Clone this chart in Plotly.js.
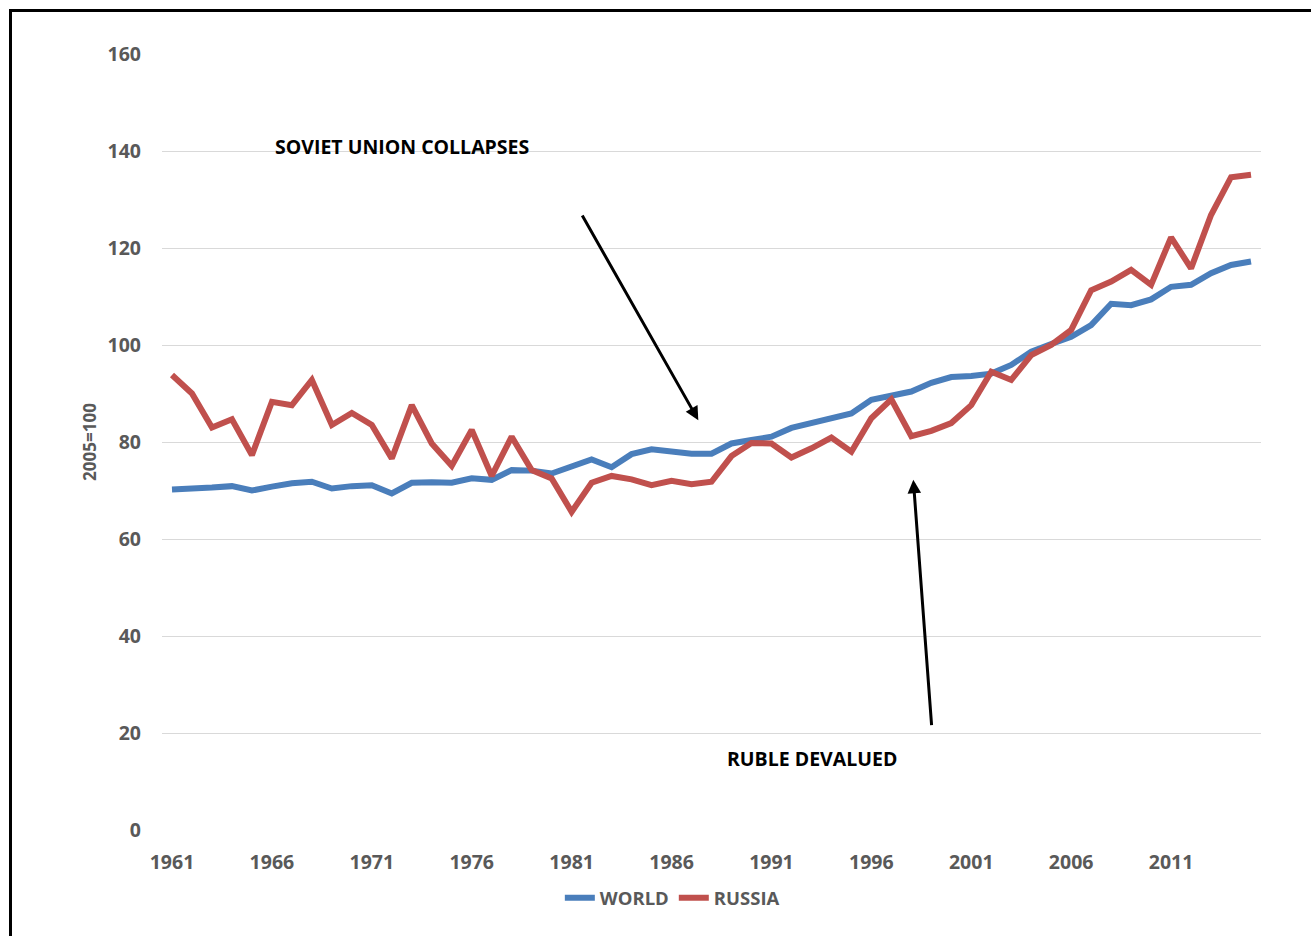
<!DOCTYPE html>
<html>
<head>
<meta charset="utf-8">
<script src="https://cdn.plot.ly/plotly-3.0.1.min.js"></script>
<style>
  html, body { margin: 0; padding: 0; background: #ffffff; }
  #wrap { position: relative; width: 1311px; height: 936px; overflow: hidden; }
  #chart { width: 1311px; height: 936px; }
  #frame { position: absolute; left: 9px; top: 9px; width: 1400px; height: 1000px;
           border-left: 3px solid #000; border-top: 3px solid #000; pointer-events: none; }
</style>
</head>
<body>
<div id="wrap">
  <div id="chart"></div>
  <div id="frame"></div>
</div>
<script>
const years = [];
for (let y = 1961; y <= 2015; y++) years.push(y);

const worldValues = [
  70.2, 70.3, 70.6, 70.9, 70.0, 70.8, 71.5, 71.8, 70.4, 70.9,
  71.1, 69.4, 71.6, 71.7, 71.6, 72.5, 72.2, 74.2, 74.1, 73.5,
  75.1, 76.4, 74.8, 77.5, 78.5, 78.1, 77.6, 77.6, 79.7, 80.4,
  81.1, 82.9, 83.9, 85.2, 85.9, 88.7, 89.5, 90.4, 92.2, 93.4,
  93.6, 94.1, 95.9, 98.6, 100.2, 101.7, 104.1, 108.5, 108.2, 109.4,
  112.0, 112.4, 114.8, 116.5, 117.2
];

const russiaValues = [
  93.8, 90.0, 83.0, 84.7, 77.3, 88.3, 87.6, 92.8, 83.5, 86.0,
  83.5, 76.6, 87.6, 79.7, 75.1, 82.5, 73.0, 81.1, 74.2, 72.5,
  65.6, 71.6, 73.0, 72.3, 71.1, 72.0, 71.3, 71.8, 77.1, 79.8,
  79.7, 76.8, 78.7, 80.9, 78.0, 84.9, 88.8, 81.2, 82.3, 83.9,
  87.6, 94.5, 92.8, 97.9, 100.0, 103.1, 111.3, 113.1, 115.5, 112.4,
  122.2, 115.8, 126.8, 134.6, 135.1
];

const seriesNames = ['WORLD', 'RUSSIA'];
const seriesColors = ['#4A7EBB', '#C0504D'];
const xTickYears = [1961, 1966, 1971, 1976, 1981, 1986, 1991, 1996, 2001, 2006, 2011];
const yTicks = [0, 20, 40, 60, 80, 100, 120, 140, 160];
const yAxisTitle = '2005=100';
const noteCollapse = 'SOVIET UNION COLLAPSES';
const noteRuble = 'RUBLE DEVALUED';

const FONT = '"Open Sans", "Liberation Sans", sans-serif';
const GRAY = '#595959';

const traces = [worldValues, russiaValues].map((vals, i) => ({
  type: 'scatter',
  mode: 'lines',
  x: years,
  y: vals,
  name: seriesNames[i],
  line: { color: seriesColors[i], width: 6, shape: 'linear' },
  hoverinfo: 'x+y+name'
}));

const layout = {
  width: 1311,
  height: 936,
  paper_bgcolor: '#ffffff',
  plot_bgcolor: '#ffffff',
  margin: { l: 162, r: 50, t: 54, b: 106, autoexpand: false },
  font: { family: FONT, size: 19, color: GRAY, weight: 'bold' },
  showlegend: true,
  legend: {
    orientation: 'h',
    x: 0.362, xanchor: 'left',
    y: -0.088, yanchor: 'middle',
    font: { family: FONT, size: 18.5, color: GRAY, weight: 'bold' },
    itemwidth: 30,
    tracegroupgap: 0,
    bgcolor: 'rgba(0,0,0,0)'
  },
  xaxis: {
    range: [1960.5, 2015.5],
    tickmode: 'array',
    tickvals: xTickYears,
    ticktext: xTickYears.map(String),
    showgrid: false,
    zeroline: false,
    showline: false,
    ticks: '',
    ticklabelstandoff: 18,
    tickfont: { family: FONT, size: 19.5, color: GRAY, weight: 'bold' },
    fixedrange: true
  },
  yaxis: {
    range: [0, 160],
    tickmode: 'array',
    tickvals: yTicks,
    ticktext: yTicks.map(String),
    showgrid: true,
    gridcolor: '#d9d9d9',
    gridwidth: 1,
    zeroline: false,
    showline: false,
    ticks: '',
    ticklabelstandoff: 20,
    tickfont: { family: FONT, size: 19.5, color: GRAY, weight: 'bold' },
    title: { text: yAxisTitle, standoff: 6, font: { family: FONT, size: 17, color: GRAY, weight: 'bold' } },
    fixedrange: true
  },
  annotations: [
    {
      x: 1972.5, y: 140.9, xref: 'x', yref: 'y',
      text: noteCollapse, showarrow: false,
      font: { family: FONT, size: 19.5, color: '#000000', weight: 'bold' }
    },
    {
      x: 1993.05, y: 14.8, xref: 'x', yref: 'y',
      text: noteRuble, showarrow: false,
      font: { family: FONT, size: 19.5, color: '#000000', weight: 'bold' }
    },
    {
      x: 1987.34, y: 84.5, xref: 'x', yref: 'y',
      ax: 1981.49, ay: 127.0, axref: 'x', ayref: 'y',
      text: '', showarrow: true, arrowhead: 2, arrowsize: 0.9, arrowwidth: 3, arrowcolor: '#000000',
      standoff: 0, startstandoff: 0
    },
    {
      x: 1998.10, y: 72.2, xref: 'x', yref: 'y',
      ax: 1999.02, ay: 21.3, axref: 'x', ayref: 'y',
      text: '', showarrow: true, arrowhead: 2, arrowsize: 0.9, arrowwidth: 3, arrowcolor: '#000000',
      standoff: 0, startstandoff: 0
    }
  ]
};

Plotly.newPlot('chart', traces, layout, { displayModeBar: false, staticPlot: true });
</script>
</body>
</html>
